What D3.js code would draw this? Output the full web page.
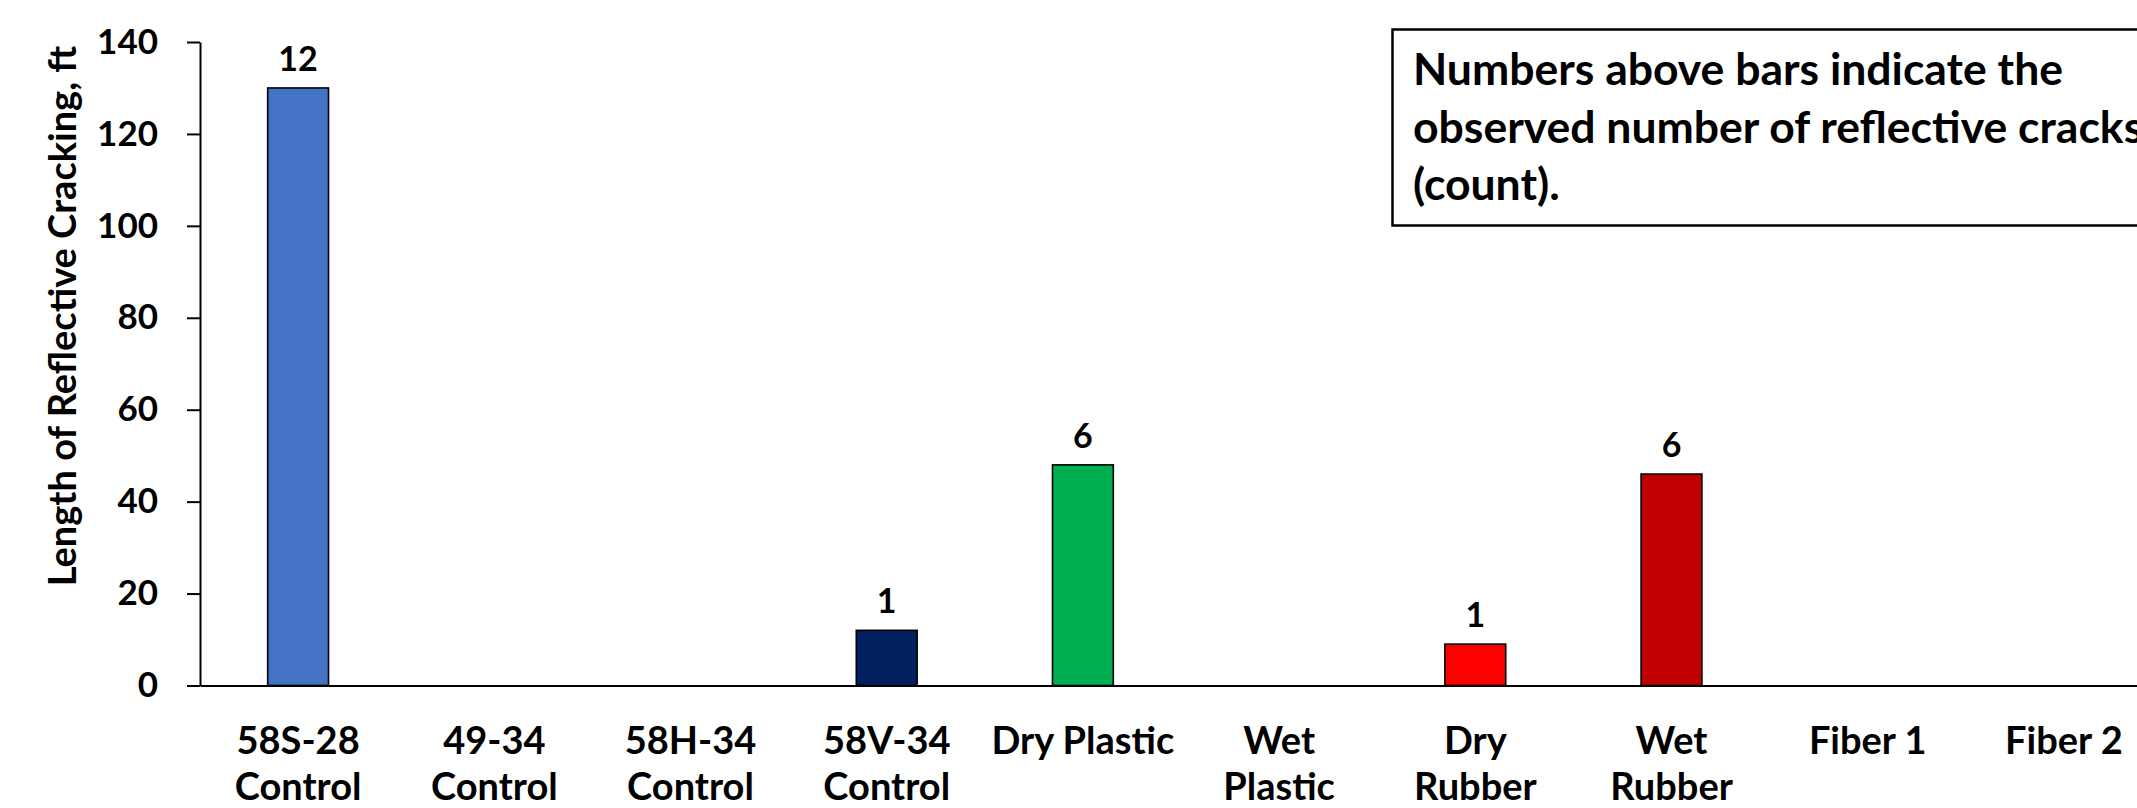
<!DOCTYPE html>
<html>
<head>
<meta charset="utf-8">
<script src="https://cdn.jsdelivr.net/npm/d3@7"></script>
<style>
  html, body { margin: 0; padding: 0; background: #fff; }
  svg { display: block; }
  text { font-family: Lato, "Open Sans", sans-serif; font-weight: 700; fill: #000; }
</style>
</head>
<body>
<svg id="chart" width="2137" height="808"></svg>
<script>
// Mix categories (line breaks mark where the axis label wraps)
const categories = [
  "58S-28\nControl", "49-34\nControl", "58H-34\nControl", "58V-34\nControl",
  "Dry Plastic", "Wet\nPlastic", "Dry\nRubber", "Wet\nRubber", "Fiber 1", "Fiber 2"
];
// Length of reflective cracking, ft
const crackLength = [130, 0, 0, 12, 48, 0, 9, 46, 0, 0];
// Observed number of reflective cracks (printed above each bar)
const crackCount = [12, null, null, 1, 6, null, 1, 6, null, null];
const barColors = ["#4472C4", "#4472C4", "#4472C4", "#002060", "#00B050",
                   "#00B050", "#FF0000", "#C00000", "#7F7F7F", "#7F7F7F"];
const yTicks = [0, 20, 40, 60, 80, 100, 120, 140];
const yTitle = "Length of Reflective Cracking, ft";
const noteLines = [
  "Numbers above bars indicate the",
  "observed number of reflective cracks",
  "(count)."
];

const svg = d3.select("#chart");
const plot = { left: 200, top: 42, bottom: 685.5, right: 2162 };

const x = d3.scaleBand()
  .domain(d3.range(categories.length))
  .range([plot.left, plot.right])
  .paddingInner(0.69)
  .paddingOuter(0.345);

const y = d3.scaleLinear()
  .domain([0, 140])
  .range([plot.bottom, plot.top]);

// Bars
const data = categories.map((c, i) => ({ i, v: crackLength[i], n: crackCount[i], color: barColors[i] }))
  .filter(d => d.v > 0);

svg.append("g").selectAll("rect")
  .data(data)
  .join("rect")
  .attr("x", d => x(d.i))
  .attr("y", d => y(d.v))
  .attr("width", x.bandwidth())
  .attr("height", d => y(0) - y(d.v))
  .attr("fill", d => d.color)
  .attr("stroke", "#000")
  .attr("stroke-width", 1.6);

// Crack counts above bars
svg.append("g").selectAll("text")
  .data(data.filter(d => d.n != null))
  .join("text")
  .attr("x", d => x(d.i) + x.bandwidth() / 2)
  .attr("y", d => y(d.v) - 17)
  .attr("text-anchor", "middle")
  .style("font-size", "34px")
  .text(d => d.n);

// Y axis
const yAxis = svg.append("g")
  .attr("transform", `translate(${plot.left},0)`)
  .call(d3.axisLeft(y).tickValues(yTicks).tickSize(13).tickSizeOuter(0).tickPadding(29));
yAxis.select(".domain").attr("stroke", "#000").attr("stroke-width", 2);
yAxis.selectAll(".tick line").attr("stroke", "#000").attr("stroke-width", 2);
yAxis.selectAll(".tick text")
  .style("font-family", "Lato, 'Open Sans', sans-serif")
  .style("font-weight", 700)
  .style("font-size", "35px")
  .attr("fill", "#000");

// X axis baseline
const xAxis = svg.append("g")
  .attr("transform", `translate(0,${plot.bottom})`)
  .call(d3.axisBottom(x).tickSize(0).tickSizeOuter(0).tickFormat(""));
xAxis.select(".domain").attr("stroke", "#000").attr("stroke-width", 2);

// Category labels (wrapped onto two lines)
const labels = svg.append("g").selectAll("text")
  .data(categories)
  .join("text")
  .attr("text-anchor", "middle")
  .attr("transform", (d, i) => `translate(${x(i) + x.bandwidth() / 2},754)`)
  .style("font-size", "38px");
labels.selectAll("tspan")
  .data(d => d.split("\n"))
  .join("tspan")
  .attr("x", 0)
  .attr("y", (d, j) => j * 46)
  .text(d => d);

// Y axis title
svg.append("text")
  .attr("transform", `translate(76,316) rotate(-90)`)
  .attr("text-anchor", "middle")
  .style("font-size", "38px")
  .text(yTitle);

// Note box
const note = svg.append("g");
note.append("rect")
  .attr("x", 1392.5)
  .attr("y", 29.5)
  .attr("width", 900)
  .attr("height", 196)
  .attr("fill", "#fff")
  .attr("stroke", "#000")
  .attr("stroke-width", 2.5);
note.selectAll("text")
  .data(noteLines)
  .join("text")
  .attr("x", 1413)
  .attr("y", (d, i) => 85 + i * 57.5)
  .style("font-size", "44.5px")
  .text(d => d);
</script>
</body>
</html>
